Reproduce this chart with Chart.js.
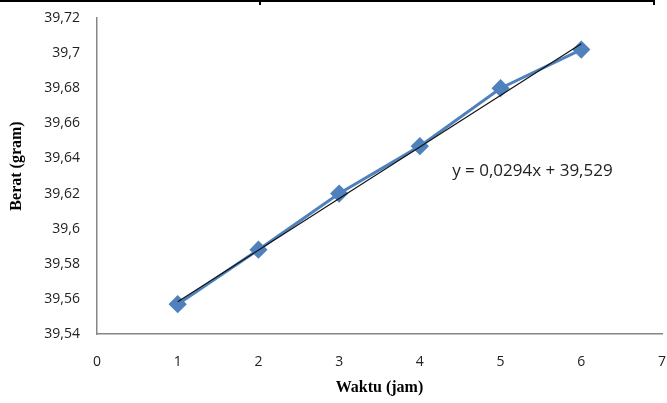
<!DOCTYPE html>
<html>
<head>
<meta charset="utf-8">
<script src="https://cdn.jsdelivr.net/npm/chart.js@4/dist/chart.umd.min.js"></script>
<style>
  html, body { margin: 0; padding: 0; background: #fff; }
  #wrap { position: relative; width: 667px; height: 403px; }
  #chart { display: block; }
  #topline { position: absolute; left: 0; top: 0; width: 654px; height: 2px; background: #000; }
  .tick { position: absolute; top: 0; width: 2px; height: 5px; background: #000; }
</style>
</head>
<body>
<div id="wrap">
  <canvas id="chart" width="667" height="403"></canvas>
  <div id="topline"></div>
  <div class="tick" style="left:259px"></div>
  <div class="tick" style="left:653px"></div>
</div>
<script>
// data
const waktu = [1, 2, 3, 4, 5, 6];
const berat = [39.557, 39.588, 39.620, 39.647, 39.680, 39.702];
// linear trendline y = 0,0294x + 39,529 (end points)
const trendX = [1, 6];
const trendY = [39.5584, 39.7054];
const trendLabel = 'y = 0,0294x + 39,529';
const yTitle = 'Berat (gram)';

const fmt = v => Number(v.toFixed(2)).toString().replace('.', ',');

const extraText = {
    id: 'extraText',
    afterDraw: function (chart) {
        const ctx = chart.ctx;
        const area = chart.chartArea;
        ctx.save();
        // trendline equation
        const x = chart.scales.x.getPixelForValue(4.4);
        const y = chart.scales.y.getPixelForValue(39.6325);
        ctx.font = '17px "Open Sans", "Liberation Sans", sans-serif';
        ctx.fillStyle = '#222';
        ctx.textBaseline = 'middle';
        ctx.fillText(trendLabel, x, y);
        // y axis title, sits a bit above the middle like the original
        ctx.translate(17, (area.top + area.bottom) / 2 - 10);
        ctx.rotate(-Math.PI / 2);
        ctx.textAlign = 'center';
        ctx.fillStyle = '#000';
        ctx.font = 'bold 16px "Liberation Serif", serif';
        ctx.fillText(yTitle, 0, 0);
        ctx.restore();
    }
};

new Chart(document.getElementById('chart'), {
    type: 'scatter',
    data: {
        datasets: [{
            label: 'Berat',
            data: waktu.map((w, i) => ({ x: w, y: berat[i] })),
            showLine: true,
            borderColor: '#4F81BD',
            backgroundColor: '#4F81BD',
            borderWidth: 3,
            pointStyle: 'rectRot',
            pointRadius: 7,
            pointHoverRadius: 7,
            order: 2
        }, {
            label: 'Linear',
            data: trendX.map((w, i) => ({ x: w, y: trendY[i] })),
            showLine: true,
            borderColor: '#111',
            borderWidth: 1.2,
            pointRadius: 0,
            order: 1
        }]
    },
    options: {
        responsive: false,
        animation: false,
        layout: { autoPadding: false, padding: { top: 18, right: 5, left: 0, bottom: 6 } },
        plugins: { legend: { display: false }, tooltip: { enabled: false } },
        scales: {
            x: {
                type: 'linear',
                min: 0, max: 7,
                grid: { display: false, drawTicks: false },
                border: { color: '#868686', width: 1.5 },
                ticks: {
                    stepSize: 1,
                    padding: 20,
                    color: '#222',
                    font: { family: '"Open Sans", "Liberation Sans", sans-serif', size: 14 }
                },
                title: {
                    display: true,
                    text: 'Waktu (jam)',
                    color: '#000',
                    padding: { top: 2, bottom: 0 },
                    font: { family: '"Liberation Serif", serif', size: 16, weight: 'bold' }
                },
                afterFit: function (scale) {
                    scale.height = 63;
                    scale.paddingLeft = 0;
                    scale.paddingRight = 0;
                }
            },
            y: {
                min: 39.54, max: 39.72,
                grid: { display: false, drawTicks: false },
                border: { color: '#868686', width: 1.5 },
                ticks: {
                    stepSize: 0.02,
                    padding: 17,
                    color: '#222',
                    font: { family: '"Open Sans", "Liberation Sans", sans-serif', size: 14 },
                    callback: function (value) { return fmt(value); }
                },
                afterFit: function (scale) {
                    scale.width = 97;
                    scale.paddingTop = 0;
                    scale.paddingBottom = 0;
                }
            }
        }
    },
    plugins: [extraText]
});
</script>
</body>
</html>
